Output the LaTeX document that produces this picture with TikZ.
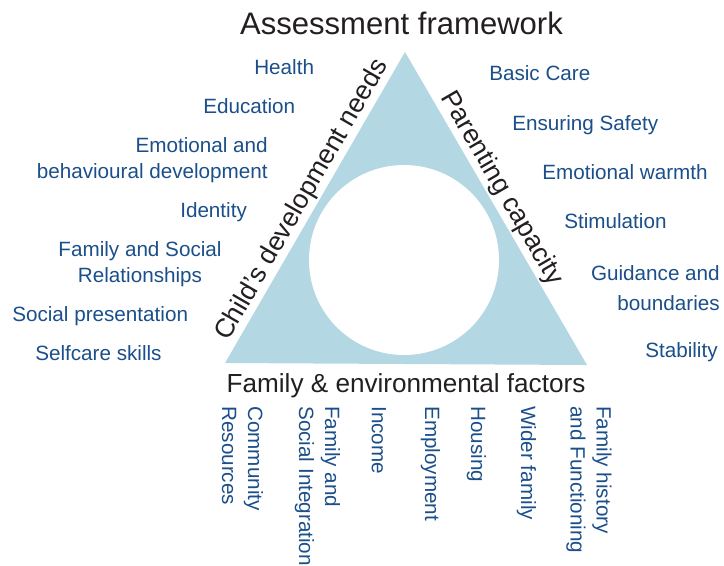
\documentclass[tikz,border=0pt]{standalone}
\usepackage{fontspec}
\setmainfont{Liberation Sans}
\definecolor{trifill}{HTML}{B4D7E4}
\definecolor{labblue}{HTML}{1B4F8A}
\definecolor{inkblack}{HTML}{231F20}
\begin{document}
\begin{tikzpicture}[x=0.75pt, y=-0.75pt,
			item/.style={text=labblue, inner sep=0pt, font=\fontsize{15.5}{19.5}\selectfont},
			col/.style={item, rotate=-90, anchor=west, align=left},
			side/.style={text=inkblack, inner sep=1.5pt, font=\fontsize{20}{24}\selectfont},
			title/.style={text=inkblack, inner sep=0pt, font=\fontsize{23.3}{28}\selectfont}]
			
			\useasboundingbox (0,0) rectangle (724,565);
			
			\coordinate (top) at (405,52);
			\coordinate (bl) at (225,363);
			\coordinate (br) at (587,365);
			\fill[trifill] (bl) -- (top) -- (br) -- cycle;
			\node[circle, fill=white, minimum size=142.5pt, inner sep=0pt] (hole) at (404,260) {};
			
			\node[title, anchor=base] (frame) at (401.5,34) {Assessment framework};
			\path (bl) -- (top) node[side, pos=0.5, sloped, above] (needs) {Child’s development needs};
			\path (top) -- (br) node[side, pos=0.46, sloped, above] (parent) {Parenting capacity};
			\node[side, anchor=base, font=\fontsize{19.6}{24}\selectfont] (env) at (406,392) {Family \& environmental factors};
			
			\node[item, anchor=base west] (health) at (254,74) {Health};
			\node[item, anchor=base west] (educ) at (203,113) {Education};
			\node[item, align=right, anchor=east] (emot) at (268,160) {Emotional and\\behavioural development};
			\node[item, anchor=base west] (ident) at (180,217) {Identity};
			\node[item, align=center] (famsoc) at (140,264) {Family and Social\\Relationships};
			\node[item, anchor=base west] (present) at (12,321) {Social presentation};
			\node[item, anchor=base west] (selfcare) at (35,360) {Selfcare skills};
			
			\node[item, anchor=base west] (basic) at (489,80) {Basic Care};
			\node[item, anchor=base west] (safety) at (512,130) {Ensuring Safety};
			\node[item, anchor=base west] (warmth) at (542,179) {Emotional warmth};
			\node[item, anchor=base west] (stim) at (564,228) {Stimulation};
			\node[item, align=right, anchor=east, font=\fontsize{15.5}{22.5}\selectfont] (guide) at (720,288) {Guidance and\\boundaries};
			\node[item, anchor=base west] (stab) at (645,357) {Stability};
			
			\node[col] (commres) at (242.5,406) {Community\\Resources};
			\node[col] (famint) at (317.5,406) {Family and\\Social Integration};
			\node[col] (income) at (379,406) {Income};
			\node[col] (employ) at (430.5,406) {Employment};
			\node[col] (housing) at (476.5,406) {Housing};
			\node[col] (wider) at (526.5,406) {Wider family};
			\node[col] (history) at (589,406) {Family history\\and Functioning};
			\end{tikzpicture}
\end{document}
